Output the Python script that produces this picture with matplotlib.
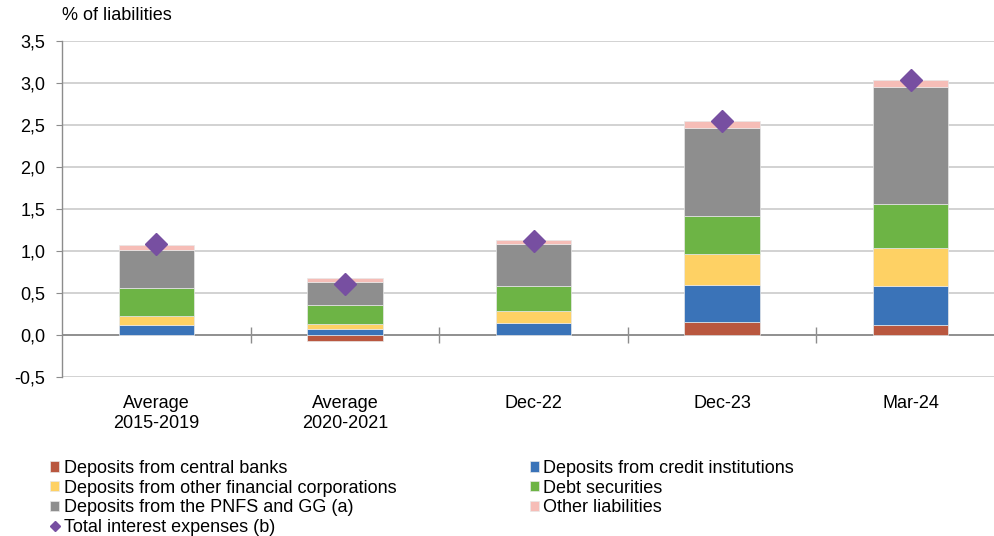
import matplotlib.pyplot as plt
import numpy as np
from matplotlib.lines import Line2D
from matplotlib.ticker import FuncFormatter

plt.rcParams['font.family'] = ['Liberation Sans', 'DejaVu Sans']

categories = ["Average\n2015-2019", "Average\n2020-2021", "Dec-22", "Dec-23", "Mar-24"]

# contribution of each liability type, pp of liabilities
central_banks = [0.0, -0.07, 0.0, 0.15, 0.115]
credit_inst = [0.12, 0.07, 0.14, 0.44, 0.465]
other_fin = [0.11, 0.065, 0.14, 0.38, 0.45]
debt_sec = [0.33, 0.225, 0.30, 0.45, 0.53]
pnfs_gg = [0.45, 0.27, 0.50, 1.05, 1.39]
other_liab = [0.065, 0.045, 0.05, 0.08, 0.08]
total_exp = [1.08, 0.61, 1.12, 2.55, 3.04]

series = [
    ("Deposits from central banks", central_banks, "#B9573F"),
    ("Deposits from credit institutions", credit_inst, "#3A73B8"),
    ("Deposits from other financial corporations", other_fin, "#FED164"),
    ("Debt securities", debt_sec, "#6DB445"),
    ("Deposits from the PNFS and GG (a)", pnfs_gg, "#8E8E8E"),
    ("Other liabilities", other_liab, "#F6BDB7"),
]

FS = 13

fig = plt.figure(figsize=(9.95, 5.36), dpi=100)
ax = fig.add_axes([62 / 995, 159 / 536, 943 / 995, 336 / 536])

x = np.arange(len(categories))
pos_base = np.zeros(len(x))
neg_base = np.zeros(len(x))
handles = {}
for name, vals, col in series:
    v = np.array(vals)
    bottom = np.where(v >= 0, pos_base, neg_base)
    bars = ax.bar(x, v, 0.4, bottom=bottom, color=col, edgecolor="#e8e8e8",
                  linewidth=0.5, zorder=3)
    handles[name] = bars
    pos_base += np.where(v >= 0, v, 0)
    neg_base += np.where(v < 0, v, 0)

ax.plot(x, total_exp, linestyle="none", marker="D", ms=11, color="#774FA1",
        zorder=5)

ax.set_xlim(-0.5, 4.5)
ax.set_ylim(-0.5, 3.5)
ax.set_yticks(np.arange(-0.5, 3.51, 0.5))
ax.yaxis.set_major_formatter(FuncFormatter(lambda v, p: f"{v:.1f}".replace(".", ",")))
ax.grid(axis="y", color="#cfcfcf", linewidth=1.3, zorder=0)
ax.set_axisbelow(True)
ax.axhline(0, color="#8c8c8c", linewidth=1.3, zorder=2)
for s in ["top", "right", "bottom"]:
    ax.spines[s].set_visible(False)
ax.spines["left"].set_color("#8c8c8c")
ax.spines["left"].set_linewidth(1.0)
ax.tick_params(axis="y", length=4, color="#8c8c8c", pad=8, labelsize=FS)
ax.set_xticks(x)
ax.set_xticklabels(categories)
ax.tick_params(axis="x", length=0, pad=13, labelsize=FS)

# separators between categories on the zero line
zero_ax = ax.secondary_xaxis(0.125)
zero_ax.set_xticks(x[:-1] + 0.5)
zero_ax.set_xticklabels([])
zero_ax.tick_params(direction="inout", length=11, color="#8c8c8c", width=1.0)
zero_ax.spines["bottom"].set_visible(False)

fig.text(62 / 995, 1 - 16 / 536, "% of liabilities", fontsize=FS, va="center")

diamond = Line2D([], [], linestyle="none", marker="D", ms=5, color="#774FA1")
order = ["Deposits from central banks", "Deposits from other financial corporations",
         "Deposits from the PNFS and GG (a)"]
col2 = ["Deposits from credit institutions", "Debt securities", "Other liabilities"]
leg_handles = [handles[n] for n in order] + [diamond] + [handles[n] for n in col2]
leg_labels = order + ["Total interest expenses (b)"] + col2
fig.legend(leg_handles, leg_labels, ncol=2, loc="upper left",
           bbox_to_anchor=(50 / 995, 1 - 460 / 536), frameon=False,
           fontsize=FS, handlelength=0.5, handleheight=0.5,
           handletextpad=0.25, labelspacing=0.15, columnspacing=7.4,
           borderaxespad=0, borderpad=0)

fig.savefig("out.png", dpi=100)
